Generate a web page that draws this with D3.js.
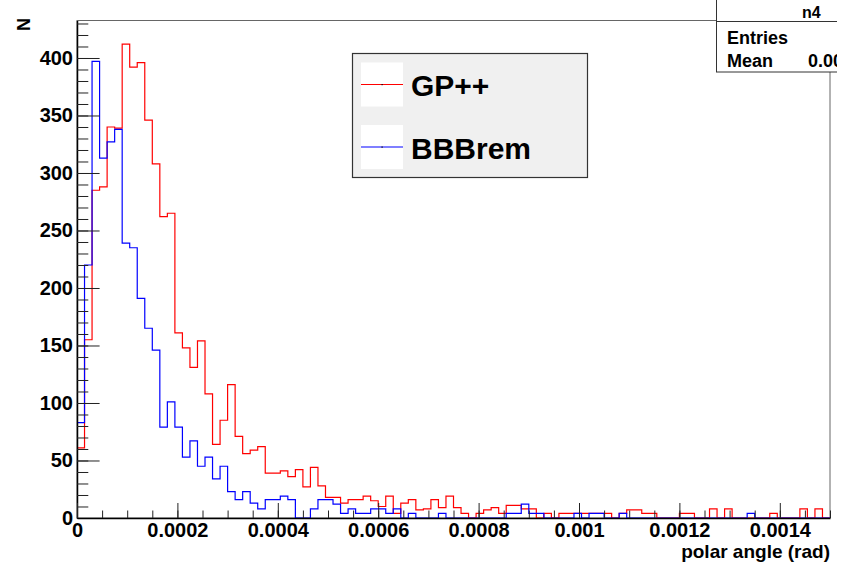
<!DOCTYPE html>
<html>
<head>
<meta charset="utf-8">
<script src="https://cdn.jsdelivr.net/npm/d3@7"></script>
<style>
  body { margin: 0; background: #fff; }
  svg { display: block; font-family: "Liberation Sans", Arial, Helvetica, sans-serif; font-weight: bold; }
</style>
</head>
<body>
<svg id="chart" width="856" height="565"></svg>
<script>
// histogram n4 : 100 bins, 0 .. 0.0015 rad
const xMin = 0, xMax = 0.0015, nBins = 100;

// GP++ counts per bin (red)
const gpppCounts = [
  61, 155, 285, 288, 340, 339, 412, 392, 396, 346,
  308, 262, 265, 161, 148, 131, 154, 108, 64, 85,
  116, 71, 56, 59, 62, 39, 39, 41, 36, 42,
  27, 44, 28, 18, 18, 13, 16, 16, 19, 15,
  10, 19, 4, 13, 16, 7, 8, 16, 9, 19,
  9, 4, 0, 4, 7, 9, 4, 11, 11, 8,
  8, 0, 4, 0, 4, 4, 4, 4, 4, 4,
  4, 0, 4, 7, 7, 4, 4, 0, 0, 0,
  4, 4, 0, 0, 8, 0, 8, 0, 0, 0,
  0, 0, 4, 0, 0, 0, 8, 0, 8, 0
];

// BBBrem counts per bin (blue)
const bbbremCounts = [
  83, 220, 397, 313, 327, 338, 239, 235, 191, 165,
  146, 79, 101, 79, 53, 67, 45, 53, 34, 45,
  23, 16, 23, 13, 8, 16, 16, 19, 16, 0,
  0, 8, 16, 16, 12, 4, 8, 4, 4, 8,
  8, 4, 8, 0, 4, 0, 0, 0, 4, 0,
  0, 0, 0, 0, 0, 0, 0, 4, 4, 12,
  4, 4, 0, 0, 0, 0, 4, 0, 4, 4,
  0, 0, 4, 0, 0, 0, 0, 0, 0, 0,
  0, 0, 0, 0, 0, 0, 0, 0, 0, 4,
  0, 0, 0, 0, 0, 0, 0, 0, 0, 0
];

const yTickValues = [0, 50, 100, 150, 200, 250, 300, 350, 400];
const yMinorValues = d3.range(0, 431, 10);
const xTickValues = [0, 0.0002, 0.0004, 0.0006, 0.0008, 0.001, 0.0012, 0.0014];
const xTickLabels = ['0', '0.0002', '0.0004', '0.0006', '0.0008', '0.001', '0.0012', '0.0014'];
const xMinorValues = d3.range(0, 31).map(i => i * 0.00005);
const legendNames = ['GP++', 'BBBrem'];
const statsLabels = ['Entries', 'Mean'];
const statsValues = ['', '0.0001921'];

const colors = ['#ff0000', '#0000ff'];

const frame = { left: 77, right: 830, top: 20.5, bottom: 518 };
const svg = d3.select('#chart');

let x = d3.scaleLinear().domain([xMin, xMax]).range([frame.left, frame.right]);
// ROOT leaves 5% headroom above the max bin
let yMax = d3.max(gpppCounts.concat(bbbremCounts)) * 1.05;
let y = d3.scaleLinear().domain([0, yMax]).range([frame.bottom, frame.top]);

svg.append('defs').append('clipPath').attr('id', 'frameClip')
  .append('rect')
  .attr('x', frame.left).attr('y', frame.top)
  .attr('width', frame.right - frame.left).attr('height', frame.bottom - frame.top);

// frame box (top/right show as grey)
svg.append('rect')
  .attr('x', frame.left).attr('y', frame.top)
  .attr('width', frame.right - frame.left).attr('height', frame.bottom - frame.top)
  .attr('fill', 'none').attr('stroke', '#666').attr('stroke-width', 1);

// histograms as step outlines
const binWidth = (xMax - xMin) / nBins;
function stepPoints(counts) {
  let pts = [[xMin, 0]];
  counts.forEach((c, i) => pts.push([xMin + i * binWidth, c]));
  pts.push([xMax, counts[counts.length - 1]]);
  pts.push([xMax, 0]);
  return pts;
}
let line = d3.line()
  .x(d => x(d[0]))
  .y(d => y(d[1]))
  .curve(d3.curveStepAfter);

let histG = svg.append('g').attr('clip-path', 'url(#frameClip)');
[gpppCounts, bbbremCounts].forEach((counts, i) => {
  histG.append('path')
    .attr('d', line(stepPoints(counts)))
    .attr('fill', 'none')
    .attr('stroke', colors[i])
    .attr('stroke-width', 1.2);
});

// y axis: labels + major ticks inward, minor ticks
let yAxis = svg.append('g')
  .attr('transform', `translate(${frame.left},0)`)
  .call(d3.axisLeft(y).tickValues(yTickValues).tickSizeInner(-22.6).tickSizeOuter(0).tickPadding(4));
svg.append('g')
  .attr('transform', `translate(${frame.left},0)`)
  .call(d3.axisLeft(y).tickValues(yMinorValues).tickSizeInner(-11.3).tickSizeOuter(0).tickFormat(''))
  .call(g => g.select('.domain').remove());

// x axis
let xAxis = svg.append('g')
  .attr('transform', `translate(0,${frame.bottom})`)
  .call(d3.axisBottom(x).tickValues(xTickValues).tickSizeInner(-15).tickSizeOuter(0).tickPadding(5)
    .tickFormat((d, i) => xTickLabels[i]));
svg.append('g')
  .attr('transform', `translate(0,${frame.bottom})`)
  .call(d3.axisBottom(x).tickValues(xMinorValues).tickSizeInner(-7.5).tickSizeOuter(0).tickFormat(''))
  .call(g => g.select('.domain').remove());

svg.selectAll('.tick line').attr('stroke', '#222');
svg.selectAll('.domain').attr('stroke', '#000').attr('stroke-width', 1.5);
svg.selectAll('.tick text')
  .attr('font-family', null)
  .attr('font-size', 20)
  .attr('fill', '#000');
yAxis.attr('font-family', null).attr('font-size', null);
xAxis.attr('font-family', null).attr('font-size', null);

// axis titles
svg.append('text')
  .attr('transform', 'translate(30,18) rotate(-90)')
  .attr('text-anchor', 'end')
  .attr('font-size', 18)
  .text('N');
svg.append('text')
  .attr('x', frame.right).attr('y', 558)
  .attr('text-anchor', 'end')
  .attr('font-size', 19)
  .text('polar angle (rad)');

// legend
let leg = svg.append('g');
leg.append('rect')
  .attr('x', 352.5).attr('y', 53.5).attr('width', 235).attr('height', 124)
  .attr('fill', '#f0f0f0').attr('stroke', '#333').attr('stroke-width', 1.2);
legendNames.forEach((name, i) => {
  let top = 62.5 + i * 62.5;
  leg.append('rect')
    .attr('x', 361).attr('y', top).attr('width', 42).attr('height', 44)
    .attr('fill', '#fff');
  leg.append('line')
    .attr('x1', 361).attr('x2', 403).attr('y1', top + 22).attr('y2', top + 22)
    .attr('stroke', colors[i]).attr('stroke-width', 1.2);
  leg.append('rect')
    .attr('x', 381.5).attr('y', top + 21.5).attr('width', 1.2).attr('height', 1.2)
    .attr('fill', '#000');
  leg.append('text')
    .attr('x', 411).attr('y', top + 33.5)
    .attr('font-size', 30)
    .text(name);
});

// stats box, cut at the canvas edge like the original
svg.append('clipPath').attr('id', 'statsClip')
  .append('rect').attr('x', 0).attr('y', 0).attr('width', 837).attr('height', 565);
let stats = svg.append('g').attr('clip-path', 'url(#statsClip)');
stats.append('rect')
  .attr('x', 716.5).attr('y', -2).attr('width', 200).attr('height', 74)
  .attr('fill', '#fff').attr('stroke', '#333').attr('stroke-width', 1);
stats.append('line')
  .attr('x1', 716.5).attr('x2', 916).attr('y1', 21.5).attr('y2', 21.5)
  .attr('stroke', '#333');
stats.append('text')
  .attr('x', 802).attr('y', 18)
  .attr('font-size', 16)
  .text('n4');
statsLabels.forEach((lab, i) => {
  stats.append('text')
    .attr('x', 727).attr('y', 43.5 + i * 23.2)
    .attr('font-size', 18)
    .text(lab);
  stats.append('text')
    .attr('x', 808).attr('y', 43.5 + i * 23.2)
    .attr('font-size', 18)
    .text(statsValues[i]);
});
</script>
</body>
</html>
